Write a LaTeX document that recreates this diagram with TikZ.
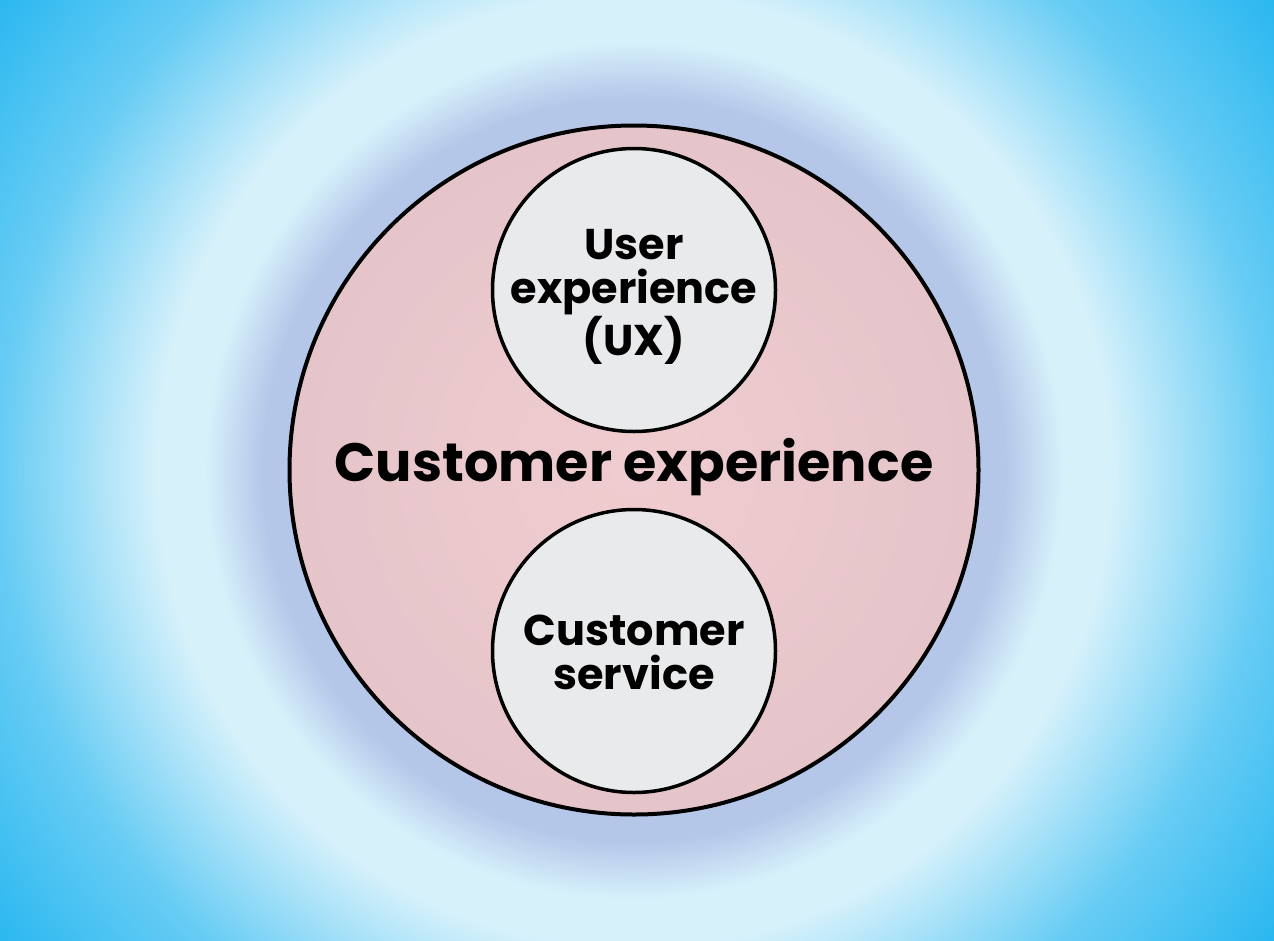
\documentclass[tikz,border=0pt]{standalone}
\usepackage{fontspec}
\setmainfont{Poppins}
\definecolor{glow}{HTML}{B4C7E9}
\definecolor{light}{HTML}{D7F1FB}
\definecolor{mid}{HTML}{67CCF4}
\definecolor{corner}{HTML}{2BB8F0}
\definecolor{pinkin}{HTML}{F0CCCF}
\definecolor{pinkout}{HTML}{E5C5CA}
\definecolor{inner}{HTML}{E9EAEC}
\pgfdeclareradialshading{bgshade}{\pgfpoint{0bp}{0bp}}{%
  color(0bp)=(glow);
  color(344bp)=(glow);
  color(370bp)=(glow);
  color(428bp)=(light);
  color(474bp)=(light);
  color(632bp)=(mid);
  color(787bp)=(corner);
  color(800bp)=(corner)}
\tikzset{
  outerc/.style={circle, draw=black, line width=4pt, minimum size=689pt, inner sep=0pt,
    inner color=pinkin, outer color=pinkout},
  innerc/.style={circle, draw=black, line width=3.5pt, minimum size=283pt, inner sep=0pt,
    fill=inner},
  smalltext/.style={align=center, inner sep=0pt, font=\bfseries\fontsize{43}{44}\selectfont},
  maintext/.style={font=\bfseries\fontsize{54}{60}\selectfont, inner sep=0pt}
}
\begin{document}
\begin{tikzpicture}[x=1pt,y=-1pt]
\useasboundingbox (0,0) rectangle (1274,940);
\begin{scope}
\clip (0,0) rectangle (1274,940);
\node[inner sep=0pt, outer sep=0pt] (bg) at (634,470) {\pgfuseshading{bgshade}};
\end{scope}
\node[outerc] (big) at (634,470) {};
\node[innerc] (ux) at (634,290) {};
\node[innerc] (cs) at (634,651) {};
\node[smalltext] (uxt) at (634,297) {User\\experience\\(UX)};
\node[smalltext] (cst) at (634,652) {Customer\\service};
\node[maintext] (ce) at (634,467) {Customer experience};
\end{tikzpicture}
\end{document}
